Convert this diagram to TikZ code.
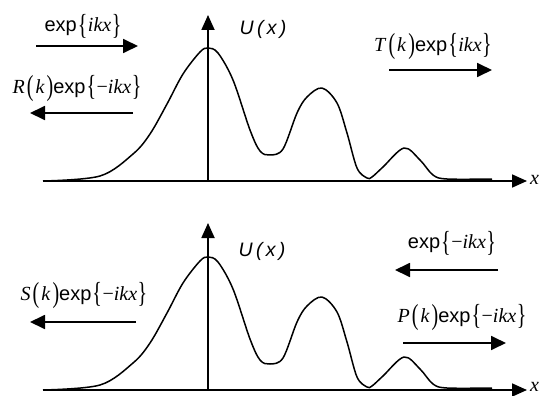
\documentclass[tikz,border=0pt]{standalone}
\usepackage{fontspec}
\setmainfont{Liberation Serif}
\setsansfont{Liberation Sans}
\usepackage{graphicx}
\usetikzlibrary{arrows.meta}
\newcommand\myex{\textsf{exp}}
\newcommand\mybr[1]{\hspace{1pt}\raisebox{-2.5pt}{\scalebox{1}[1.45]{\{}}\hspace{0.5pt}#1\hspace{0.5pt}\raisebox{-2.5pt}{\scalebox{1}[1.45]{\}}}}
\newcommand\mypr[1]{\hspace{2pt}\raisebox{-2.5pt}{\scalebox{1}[1.45]{(}}\hspace{2pt}#1\hspace{2pt}\raisebox{-2.5pt}{\scalebox{1}[1.45]{)}}}
\begin{document}
\begin{tikzpicture}[x=1pt,y=-1pt,
  lbl/.style={font=\fontsize{20}{23}\selectfont, inner sep=0pt},
  ulbl/.style={font=\fontsize{19.5}{22}\selectfont\sffamily\itshape, inner sep=0pt},
  axis/.style={line width=1.8pt, -{Triangle[length=15pt,width=13pt]}},
  wave/.style={line width=1.8pt, -{Triangle[length=15pt,width=14pt]}},
  pot/.style={line width=1.5pt, line join=round}]
\useasboundingbox (0,0) rectangle (541,396);
% ---------- top panel ----------
\coordinate (xa1) at (43,181); \coordinate (xb1) at (527,181);
\coordinate (ya1) at (208,181); \coordinate (yb1) at (208,15);
\draw[axis] (xa1) -- (xb1);
\draw[axis] (ya1) -- (yb1);
\draw[pot] plot[smooth, tension=0.55] coordinates {(43,181) (100,176) (133,154) (150,134) (167,104) (183,74) (200,52) (208,48) (218,53) (233,80) (250,130) (260,151) (270,155) (283,149) (297,113) (307,97) (322,88) (337,103) (347,133) (357,168) (367,178) (372,177) (383,167) (404,148) (420,160) (433,175) (447,179) (492,179)};
\node[ulbl] (u1) at (263,29) {U\,(\,x\,)};
\node[lbl, font=\fontsize{20}{23}\selectfont\itshape, anchor=west] (x1) at (530,180) {x};
\node[lbl] (inc1) at (83,26) {\myex\mybr{\textit{ikx}}};
\coordinate (a1s) at (36,46); \coordinate (a1e) at (138,46);
\draw[wave] (a1s) -- (a1e);
\node[lbl] (ref1) at (77,89) {\textit{R}\mypr{\textit{k}}\myex\mybr{−\textit{ikx}}};
\coordinate (a2s) at (133,113); \coordinate (a2e) at (30,113);
\draw[wave] (a2s) -- (a2e);
\node[lbl] (tr1) at (433,47) {\textit{T}\mypr{\textit{k}}\myex\mybr{\textit{ikx}}};
\coordinate (a3s) at (389,70); \coordinate (a3e) at (492,70);
\draw[wave] (a3s) -- (a3e);
% ---------- bottom panel ----------
\coordinate (xa2) at (43,390); \coordinate (xb2) at (527,390);
\coordinate (ya2) at (208,390); \coordinate (yb2) at (208,223);
\draw[axis] (xa2) -- (xb2);
\draw[axis] (ya2) -- (yb2);
\begin{scope}[yshift=-209pt]
\draw[pot] plot[smooth, tension=0.55] coordinates {(43,181) (100,176) (133,154) (150,134) (167,104) (183,74) (200,52) (208,48) (218,53) (233,80) (250,130) (260,151) (270,155) (283,149) (297,113) (307,97) (322,88) (337,103) (347,133) (357,168) (367,178) (372,177) (383,167) (404,148) (420,160) (433,175) (447,179) (492,179)};
\end{scope}
\node[ulbl] (u2) at (262,251) {U\,(\,x\,)};
\node[lbl, font=\fontsize{20}{23}\selectfont\itshape, anchor=west] (x2) at (530,387) {x};
\node[lbl] (tr2) at (84,296) {\textit{S}\mypr{\textit{k}}\myex\mybr{−\textit{ikx}}};
\coordinate (b1s) at (136,322); \coordinate (b1e) at (30,322);
\draw[wave] (b1s) -- (b1e);
\node[lbl] (inc2) at (452,243) {\myex\mybr{−\textit{ikx}}};
\coordinate (b2s) at (498,270); \coordinate (b2e) at (395,270);
\draw[wave] (b2s) -- (b2e);
\node[lbl] (ref2) at (462,318) {\textit{P}\mypr{\textit{k}}\myex\mybr{−\textit{ikx}}};
\coordinate (b3s) at (403,343); \coordinate (b3e) at (506,343);
\draw[wave] (b3s) -- (b3e);
\end{tikzpicture}
\end{document}
